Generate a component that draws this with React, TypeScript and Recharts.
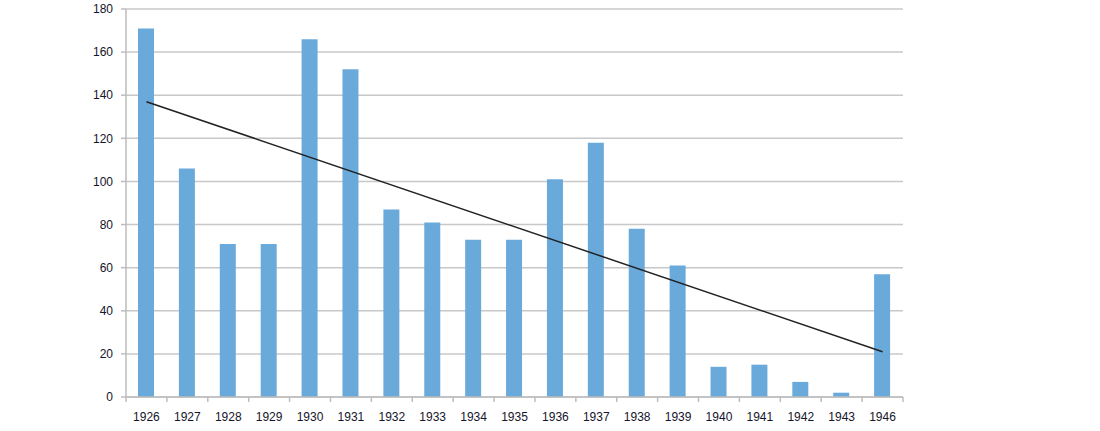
import { ComposedChart, Bar, Line, XAxis, YAxis, CartesianGrid } from "recharts"

// years on the x axis (1944 and 1945 are not in the source)
const years = ["1926", "1927", "1928", "1929", "1930", "1931", "1932", "1933", "1934", "1935", "1936", "1937", "1938", "1939", "1940", "1941", "1942", "1943", "1946"]
const counts = [171, 106, 71, 71, 166, 152, 87, 81, 73, 73, 101, 118, 78, 61, 14, 15, 7, 2, 57]
// linear trend, read at both ends only
const trend = [137, null, null, null, null, null, null, null, null, null, null, null, null, null, null, null, null, null, 21]
const yTicks = [0, 20, 40, 60, 80, 100, 120, 140, 160, 180]

const data = years.map((year, i) => ({ year, count: counts[i], trend: trend[i] }))

const W = 1100
const H = 431
const LEFT = 126
const RIGHT = 197
const BAND = (W - LEFT - RIGHT) / years.length
const font = "'Liberation Sans', Arial, sans-serif"

const YearTick = (props: any) => {
  const { x, y, payload, index } = props
  return (
    <g>
      <line x1={x - BAND / 2} y1={y - 8} x2={x - BAND / 2} y2={y - 3} stroke="#bdbdbd" strokeWidth={1.5} />
      {index === years.length - 1 && (
        <line x1={x + BAND / 2} y1={y - 8} x2={x + BAND / 2} y2={y - 3} stroke="#bdbdbd" strokeWidth={1.5} />
      )}
      <text x={x} y={y + 16} textAnchor="middle" fontSize={12} fill="#14142a" fontFamily={font}>
        {payload.value}
      </text>
    </g>
  )
}

export default function App() {
  return (
    <div style={{ position: "absolute", left: 0, top: 0, width: W, height: H, background: "#fff" }}>
      <ComposedChart width={W} height={H} data={data} margin={{ top: 9, right: RIGHT, bottom: 0, left: 0 }}>
        <CartesianGrid vertical={false} stroke="#c8c8c8" strokeWidth={1.5} />
        <XAxis
          dataKey="year"
          height={34}
          tickLine={false}
          axisLine={{ stroke: "#bdbdbd", strokeWidth: 1.5 }}
          tick={<YearTick />}
          interval={0}
        />
        <YAxis
          width={LEFT}
          domain={[0, 180]}
          ticks={yTicks}
          tickSize={5}
          tickMargin={8}
          tickLine={{ stroke: "#bdbdbd", strokeWidth: 1.5 }}
          axisLine={{ stroke: "#bdbdbd", strokeWidth: 1.5 }}
          tick={{ fontSize: 12, fill: "#14142a", fontFamily: font }}
        />
        <Bar dataKey="count" fill="#6aaadb" barSize={16} isAnimationActive={false} />
        <Line
          dataKey="trend"
          stroke="#222"
          strokeWidth={1.5}
          dot={false}
          connectNulls
          isAnimationActive={false}
        />
      </ComposedChart>
    </div>
  )
}
